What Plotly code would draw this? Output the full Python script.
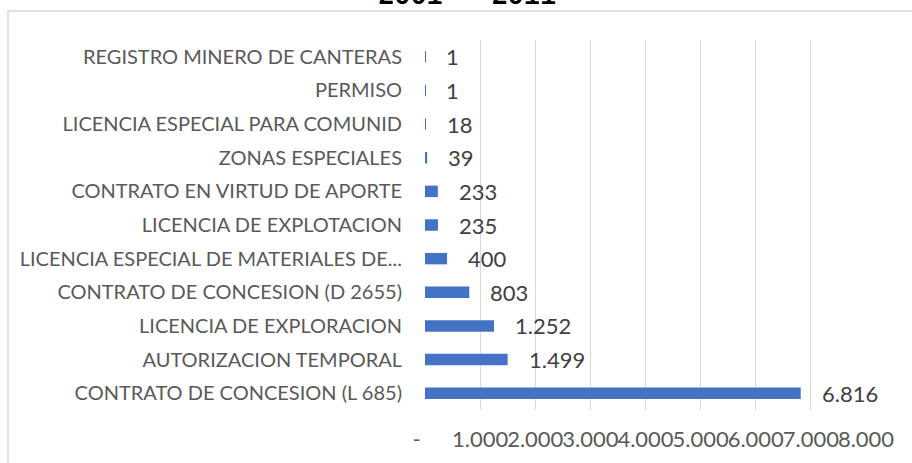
import plotly.graph_objects as go

categories = [
    "CONTRATO DE CONCESION (L 685)",
    "AUTORIZACION TEMPORAL",
    "LICENCIA DE EXPLORACION",
    "CONTRATO DE CONCESION (D 2655)",
    "LICENCIA ESPECIAL DE MATERIALES DE...",
    "LICENCIA DE EXPLOTACION",
    "CONTRATO EN VIRTUD DE APORTE",
    "ZONAS ESPECIALES",
    "LICENCIA ESPECIAL PARA COMUNID",
    "PERMISO",
    "REGISTRO MINERO DE CANTERAS",
]
values = [6816, 1499, 1252, 803, 400, 235, 233, 39, 18, 1, 1]
tick_values = [0, 1000, 2000, 3000, 4000, 5000, 6000, 7000, 8000]
tick_labels = ["-   ", "1.000", "2.000", "3.000", "4.000", "5.000", "6.000", "7.000", "8.000"]
title_text = "2001 - 2011"

FONT = "Lato"
W, H = 912, 463
L, R, T, B = 425, 46, 40, 53


def fmt(v):
    return f"{v:,}".replace(",", ".")


fig = go.Figure()
fig.add_trace(go.Bar(
    x=values, y=categories, orientation="h",
    marker=dict(color="#4472C4", line=dict(width=0)),
    hoverinfo="x+y",
))

annotations = []
for c, v in zip(categories, values):
    annotations.append(dict(
        x=v, y=c, xref="x", yref="y", text=fmt(v), showarrow=False,
        xanchor="left", yanchor="middle", xshift=19,
        font=dict(family=FONT, size=22, color="#404040"),
    ))

pw = W - L - R
ph = H - T - B
annotations.append(dict(
    x=(467 - L) / pw, y=(H - B - 14) / ph, xref="paper", yref="paper",
    text=f"<b>{title_text}</b>", showarrow=False, xanchor="center", yanchor="bottom",
    font=dict(family="Liberation Mono", size=27, color="#000000"),
))

fig.update_layout(
    width=W, height=H,
    margin=dict(l=L, r=R, t=T, b=B, pad=0),
    paper_bgcolor="white", plot_bgcolor="white",
    showlegend=False,
    bargap=0.66,
    annotations=annotations,
    shapes=[dict(
        type="rect", xref="paper", yref="paper",
        x0=(8 - L) / pw, x1=2.0, y0=-1.0, y1=(H - B - 11) / ph,
        line=dict(color="#D9D9D9", width=1.5), fillcolor="rgba(0,0,0,0)", layer="below",
    )],
    xaxis=dict(
        range=[0, 8000], tickvals=tick_values, ticktext=tick_labels,
        showgrid=True, gridcolor="#D9D9D9", gridwidth=1.3,
        zeroline=False, showline=False, tickangle=0, automargin=False,
        ticks="outside", ticklen=10, tickcolor="rgba(0,0,0,0)",
        tickfont=dict(family=FONT, size=22, color="#595959"),
    ),
    yaxis=dict(
        categoryorder="array", categoryarray=categories,
        showgrid=False, zeroline=False, showline=False, automargin=False,
        ticks="outside", ticklen=18, tickcolor="rgba(0,0,0,0)",
        tickfont=dict(family=FONT, size=20, color="#595959"),
    ),
)

fig.write_html(
    "out.html",
    config={"displayModeBar": False},
    post_script="document.body.style.margin='0';document.body.style.overflow='hidden';",
)
